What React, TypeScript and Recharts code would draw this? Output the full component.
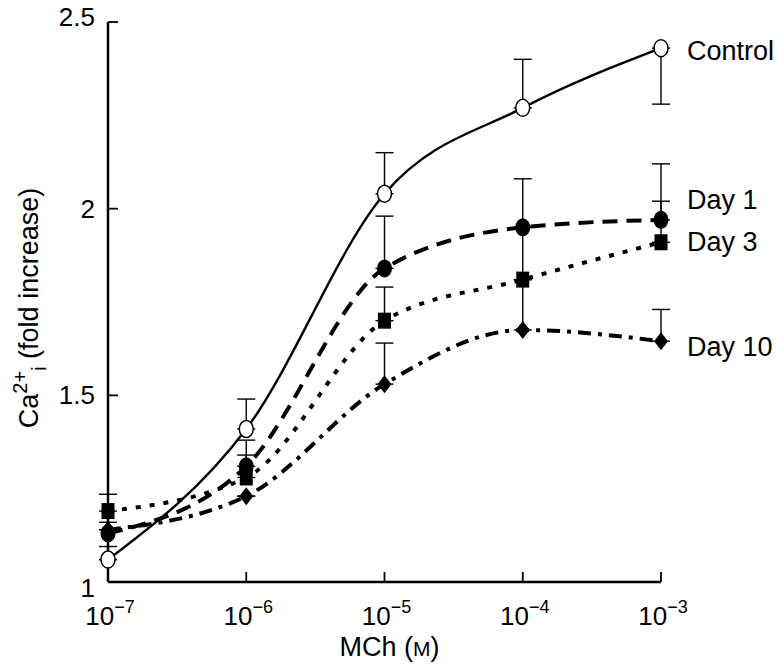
import React from 'react'
import { LineChart, Line, XAxis, YAxis, ErrorBar, LabelList, Label } from 'recharts'

// MCh concentration (M), log axis
const concentrations = [1e-7, 1e-6, 1e-5, 1e-4, 1e-3]
const xTicks = [1e-7, 1e-6, 1e-5, 1e-4, 1e-3]
const yTicks = [1, 1.5, 2, 2.5]

const control = [1.06, 1.41, 2.04, 2.27, 2.43]
const controlErrLow = [0, 0, 0, 0, 0.15]
const controlErrHigh = [0, 0.08, 0.11, 0.13, 0]

const day1 = [1.13, 1.31, 1.84, 1.95, 1.97]
const day1ErrLow = [0.035, 0, 0, 0, 0]
const day1ErrHigh = [0.03, 0.07, 0.14, 0.13, 0.15]

const day3 = [1.19, 1.28, 1.7, 1.81, 1.91]
const day3ErrLow = [0, 0, 0, 0, 0]
const day3ErrHigh = [0.045, 0.06, 0.09, 0.14, 0.11]

const day10 = [1.14, 1.23, 1.53, 1.675, 1.645]
const day10ErrLow = [0, 0, 0, 0, 0]
const day10ErrHigh = [0, 0, 0.11, 0.135, 0.085]

const FONT = '"Liberation Sans", Arial, Helvetica, sans-serif'

const data = concentrations.map((mch, i) => ({
  mch,
  control: control[i],
  controlErr: [controlErrLow[i], controlErrHigh[i]],
  day1: day1[i],
  day1Err: [day1ErrLow[i], day1ErrHigh[i]],
  day3: day3[i],
  day3Err: [day3ErrLow[i], day3ErrHigh[i]],
  day10: day10[i],
  day10Err: [day10ErrLow[i], day10ErrHigh[i]],
}))

const lastIndex = concentrations.length - 1

function exponentOf(v: number) {
  return String(Math.round(Math.log10(v))).replace('-', '\u2212')
}

function XTick({ x, y, payload }: any) {
  return (
    <text x={x + 2} y={y + 43} textAnchor="middle" fontFamily={FONT} fontSize={26} fill="#000">
      10
      <tspan dy={-12} fontSize={18}>
        {exponentOf(payload.value)}
      </tspan>
    </text>
  )
}

function YTick({ x, y, payload }: any) {
  // the end labels are nudged off the corner like the original
  const shift = payload.value === 2.5 ? -5 : payload.value === 1 ? 6 : 0
  return (
    <text x={x} y={y + shift} dy={9} textAnchor="end" fontFamily={FONT} fontSize={26} fill="#000">
      {payload.value}
    </text>
  )
}

const openCircle = (p: any) => (
  <ellipse key={p.key} cx={p.cx} cy={p.cy} rx={7} ry={8.5} fill="#fff" stroke="#000" strokeWidth={1.5} />
)
const filledCircle = (p: any) => (
  <ellipse key={p.key} cx={p.cx} cy={p.cy} rx={7.5} ry={9} fill="#000" />
)
const square = (p: any) => (
  <rect key={p.key} x={p.cx - 6.5} y={p.cy - 8} width={13} height={16} fill="#000" />
)
const diamond = (p: any) => (
  <polygon
    key={p.key}
    points={`${p.cx},${p.cy - 9} ${p.cx + 7},${p.cy} ${p.cx},${p.cy + 9} ${p.cx - 7},${p.cy}`}
    fill="#000"
  />
)

function endLabel(text: string, dy: number) {
  return (props: any) => {
    if (props.index !== lastIndex) return null
    return (
      <text
        x={props.x + 26}
        y={props.y + dy}
        dominantBaseline="central"
        fontFamily={FONT}
        fontSize={27}
        fill="#000"
      >
        {text}
      </text>
    )
  }
}

const errProps = { width: 9, stroke: '#000', strokeWidth: 1.4, direction: 'y' as const }

export default function App() {
  return (
    <div style={{ position: 'absolute', left: 0, top: 0, background: '#fff' }}>
      <LineChart width={777} height={668} data={data} margin={{ top: 22, right: 116, left: 0, bottom: 0 }}>
        <XAxis
          dataKey="mch"
          type="number"
          scale="log"
          domain={[1e-7, 1e-3]}
          ticks={xTicks}
          height={86}
          stroke="#000"
          axisLine={{ stroke: '#000', strokeWidth: 2.5 }}
          tickLine={{ stroke: '#000', strokeWidth: 1.8 }}
          tickSize={-10}
          tickMargin={10}
          tick={<XTick />}
          interval={0}
        >
          <Label
            content={({ viewBox }: any) => (
              <text
                x={viewBox.x + viewBox.width / 2 + 5}
                y={viewBox.y + 74}
                textAnchor="middle"
                fontFamily={FONT}
                fontSize={27}
                fill="#000"
              >
                MCh (<tspan fontSize={21}>M</tspan>)
              </text>
            )}
          />
        </XAxis>
        <YAxis
          type="number"
          domain={[1, 2.5]}
          ticks={yTicks}
          width={108}
          stroke="#000"
          axisLine={{ stroke: '#000', strokeWidth: 2.5 }}
          tickLine={{ stroke: '#000', strokeWidth: 1.8 }}
          tickSize={-10}
          tickMargin={23}
          tick={<YTick />}
          interval={0}
        >
          <Label
            content={({ viewBox }: any) => {
              const cx = viewBox.x + 38
              const cy = viewBox.y + viewBox.height / 2 + 6
              return (
                <text
                  x={cx}
                  y={cy}
                  transform={`rotate(-90, ${cx}, ${cy})`}
                  textAnchor="middle"
                  fontFamily={FONT}
                  fontSize={27}
                  fill="#000"
                >
                  Ca
                  <tspan dy={-11} fontSize={20}>2+</tspan>
                  <tspan dy={19} fontSize={20}>i</tspan>
                  <tspan dy={-8}> (fold increase)</tspan>
                </text>
              )
            }}
          />
        </YAxis>

        <Line
          dataKey="day10"
          type="monotone"
          stroke="#000"
          strokeWidth={4}
          strokeDasharray="13 7 4 7"
          dot={diamond}
          activeDot={false}
          isAnimationActive={false}
        >
          <ErrorBar dataKey="day10Err" {...errProps} />
          <LabelList dataKey="day10" content={endLabel('Day 10', 6)} />
        </Line>
        <Line
          dataKey="day3"
          type="monotone"
          stroke="#000"
          strokeWidth={4}
          strokeDasharray="5 9"
          dot={square}
          activeDot={false}
          isAnimationActive={false}
        >
          <ErrorBar dataKey="day3Err" {...errProps} />
          <LabelList dataKey="day3" content={endLabel('Day 3', 0)} />
        </Line>
        <Line
          dataKey="day1"
          type="monotone"
          stroke="#000"
          strokeWidth={4}
          strokeDasharray="15 9"
          dot={filledCircle}
          activeDot={false}
          isAnimationActive={false}
        >
          <ErrorBar dataKey="day1Err" {...errProps} />
          <LabelList dataKey="day1" content={endLabel('Day 1', -20)} />
        </Line>
        <Line
          dataKey="control"
          type="monotone"
          stroke="#000"
          strokeWidth={2.4}
          dot={openCircle}
          activeDot={false}
          isAnimationActive={false}
        >
          <ErrorBar dataKey="controlErr" {...errProps} />
          <LabelList dataKey="control" content={endLabel('Control', 3)} />
        </Line>
      </LineChart>
    </div>
  )
}
